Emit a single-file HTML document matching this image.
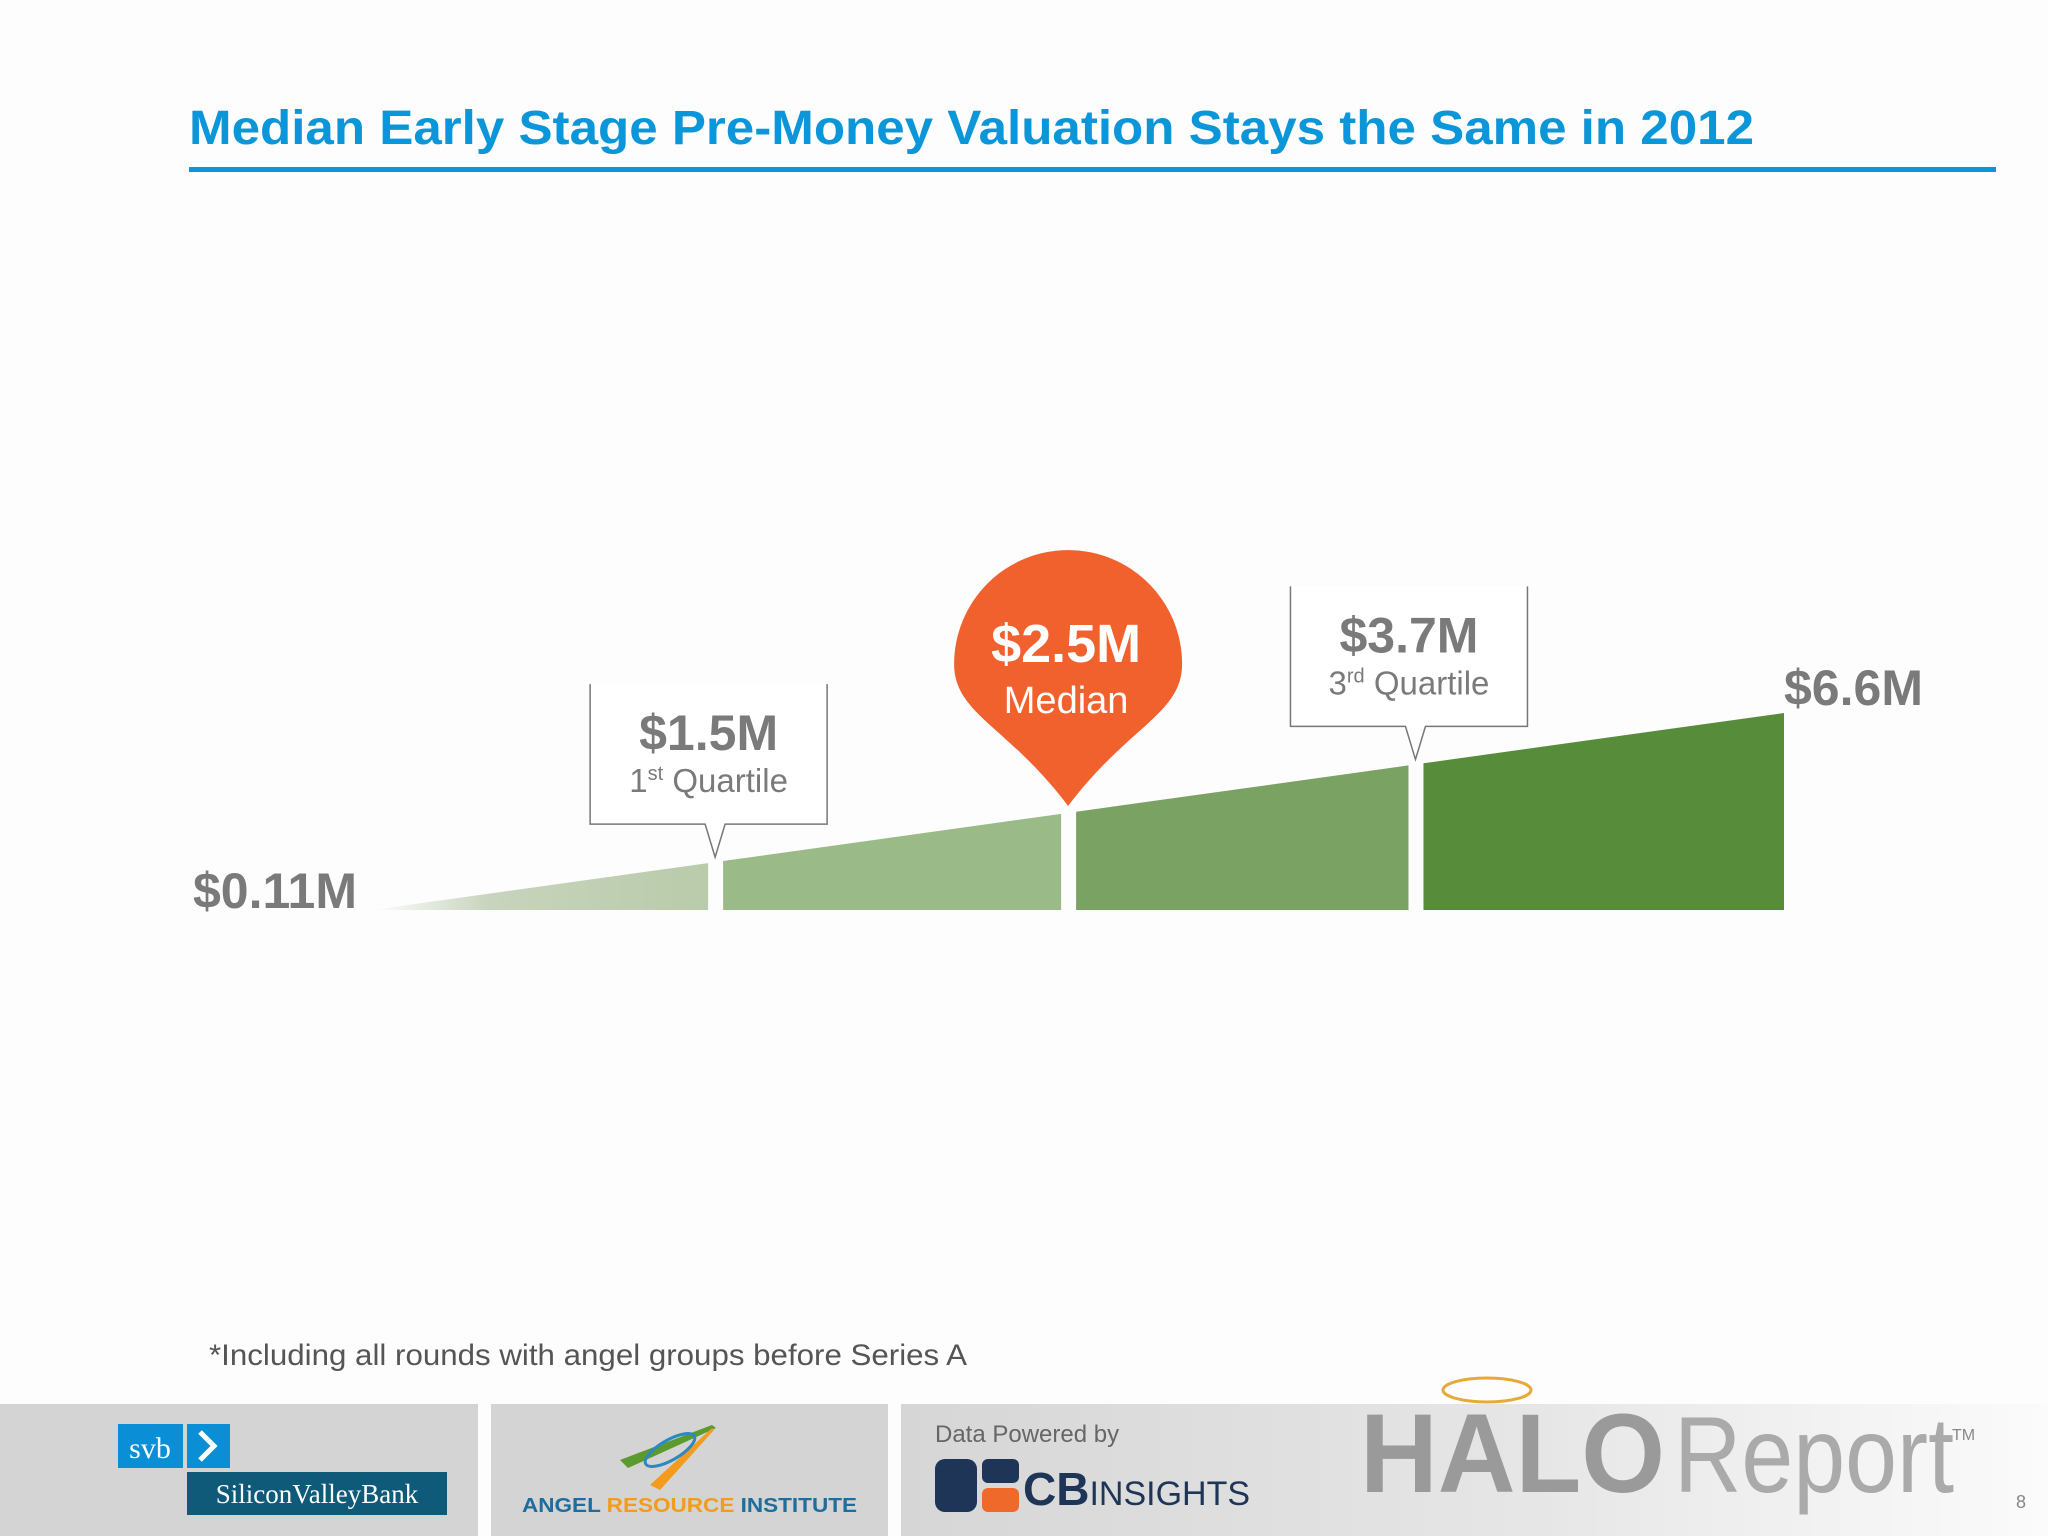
<!DOCTYPE html>
<html><head><meta charset="utf-8">
<style>
html,body{margin:0;padding:0;}
body{width:2048px;height:1536px;background:#fdfdfd;position:relative;overflow:hidden;font-family:"Liberation Sans",sans-serif;}
svg{position:absolute;left:0;top:0;}
</style></head>
<body>
<svg width="2048" height="1536" viewBox="0 0 2048 1536">
<defs>
 <linearGradient id="fade" x1="0" x2="1" y1="0" y2="0">
  <stop offset="0" stop-color="#fdfdfd"/><stop offset="0.35" stop-color="#c8d4bd"/><stop offset="1" stop-color="#b9cbaa"/>
 </linearGradient>
 <linearGradient id="foot" x1="0" x2="1" y1="0" y2="0">
  <stop offset="0" stop-color="#d6d6d6"/><stop offset="0.55" stop-color="#e6e6e6"/><stop offset="1" stop-color="#fbfbfb"/>
 </linearGradient>
</defs>
<text x="189" y="144" font-size="48" font-weight="bold" fill="#0a96d8" textLength="1565" lengthAdjust="spacingAndGlyphs">Median Early Stage Pre-Money Valuation Stays the Same in 2012</text>
<rect x="189" y="167" width="1807" height="5" fill="#0a96d8"/>
<g id="chart"></g>
<text x="209" y="1365" font-size="30" fill="#555" textLength="758" lengthAdjust="spacingAndGlyphs">*Including all rounds with angel groups before Series A</text>

<g>
 <rect x="0" y="1404" width="478" height="132" fill="#d4d4d4"/>
 <rect x="491" y="1404" width="397" height="132" fill="#d4d4d4"/>
 <rect x="901" y="1404" width="1147" height="132" fill="url(#foot)"/>
 <rect x="118" y="1424" width="65" height="44" fill="#0a8fd6"/>
 <text x="150" y="1458" font-size="30" fill="#fff" text-anchor="middle" font-family="Liberation Serif,serif">svb</text>
 <rect x="187" y="1424" width="43" height="44" fill="#0a8fd6"/>
 <path d="M200 1432 L214 1446 L200 1460" stroke="#fff" stroke-width="5" fill="none"/>
 <rect x="187" y="1472" width="260" height="43" fill="#0e5a78"/>
 <text x="317" y="1503" font-size="27" fill="#fff" text-anchor="middle" font-family="Liberation Serif,serif">SiliconValleyBank</text>
 <path d="M620 1460 L712 1425 L716 1428 L628 1468 Z" fill="#5a9a2e"/>
 <path d="M650 1485 L712 1428 L714 1430 L660 1490 Z" fill="#f29b1d"/>
 <ellipse cx="670" cy="1450" rx="28" ry="10" fill="none" stroke="#2a88c4" stroke-width="3" transform="rotate(-30 670 1450)"/>
 <text x="522" y="1512" font-size="20" font-weight="bold" fill="#1e6d9c" textLength="335" lengthAdjust="spacingAndGlyphs">ANGEL <tspan fill="#f29b1d">RESOURCE</tspan> INSTITUTE</text>
 <text x="935" y="1442" font-size="24" fill="#666">Data Powered by</text>
 <rect x="935" y="1459" width="42" height="53" rx="10" fill="#1e3558"/>
 <rect x="982" y="1459" width="37" height="24" rx="6" fill="#1e3558"/>
 <rect x="982" y="1488" width="37" height="24" rx="6" fill="#ef6a2a"/>
 <text x="1023" y="1505" font-size="46" font-weight="bold" fill="#1e3558">CB<tspan font-weight="normal" font-size="34">INSIGHTS</tspan></text>
 <ellipse cx="1487" cy="1390" rx="44" ry="12" fill="none" stroke="#e8a83a" stroke-width="3"/>
 <text x="1360" y="1492" font-size="112" font-weight="bold" fill="#9a9a9a" textLength="305" lengthAdjust="spacingAndGlyphs">HALO</text>
 <text x="1674" y="1492" font-size="108" fill="#aaa" textLength="280" lengthAdjust="spacingAndGlyphs">Report</text>
 <text x="1952" y="1440" font-size="16" fill="#888">TM</text>
 <text x="2016" y="1508" font-size="18" fill="#888">8</text>
</g>
</svg>
<script>
const quantilePositions=[0,0.243,0.493,0.739,1];
const valueLabels=["$0.11M","$1.5M","$2.5M","$3.7M","$6.6M"];
const quantileNames=["Minimum","1st","Median","3rd","Maximum"];
const segmentColors=["url(#fade)","#9aba88","#7aa262","#578c3a"];

const NS="http://www.w3.org/2000/svg";
const g=document.getElementById('chart');
const x0=372,x1=1784,base=910,maxH=197;
const xs=p=>x0+p*(x1-x0);
const ys=p=>base-p*maxH;
function mk(t,a){const e=document.createElementNS(NS,t);for(const k in a)e.setAttribute(k,a[k]);g.appendChild(e);return e;}
for(let i=0;i<4;i++){
 const a=quantilePositions[i],b=quantilePositions[i+1];
 const xa=xs(a)+(i?8:0),xb=xs(b)-(i<3?7:0);
 const ya=base-(xa-x0)/(x1-x0)*maxH,yb=base-(xb-x0)/(x1-x0)*maxH;
 const p=mk('path',{d:`M${xa} ${base} L${xa} ${ya} L${xb} ${yb} L${xb} ${base} Z`,fill:segmentColors[i]});
 
 
}
let t=mk('text',{x:xs(0)-179,y:base-2,'font-size':50,'font-weight':'bold',fill:'#7a7a7a'});t.textContent=valueLabels[0];


t=mk('text',{x:xs(1),y:ys(1)-8,'font-size':50,'font-weight':'bold',fill:'#7a7a7a'});t.textContent=valueLabels[4];


[1,3].forEach(i=>{
 const cx=xs(quantilePositions[i]);const tipY=base-(cx-x0)/(x1-x0)*maxH-5;
 const bottom=tipY-33,top=bottom-140,l=cx-125,r=cx+112;
 const p=mk('path',{d:`M${l} ${top} L${l} ${bottom} L${cx-10} ${bottom} L${cx} ${tipY} L${cx+10} ${bottom} L${r} ${bottom} L${r} ${top}`,fill:'#fff',stroke:'#777','stroke-width':1.5});
 
 
 const mid=(l+r)/2;
 let a=mk('text',{x:mid,y:top+66,'font-size':50,'font-weight':'bold',fill:'#7a7a7a','text-anchor':'middle'});a.textContent=valueLabels[i];
 
 
 let b=mk('text',{x:mid,y:top+108,'font-size':33,fill:'#7a7a7a','text-anchor':'middle'});
 b.innerHTML=(i===1?'1<tspan dy="-12" font-size="20">st</tspan>':'3<tspan dy="-12" font-size="20">rd</tspan>')+'<tspan dy="12"> Quartile</tspan>';
 
 
});
{
 const cx=xs(quantilePositions[2]);const tip=806,cy=664,r=114;
 const p=mk('path',{d:`M${cx} ${tip} C${cx-60} ${tip-80} ${cx-r} ${cy+50} ${cx-r} ${cy} A${r} ${r} 0 0 1 ${cx+r} ${cy} C${cx+r} ${cy+50} ${cx+60} ${tip-80} ${cx} ${tip} Z`,fill:'#f0612e'});
 
 
 let a=mk('text',{x:cx-2,y:662,'font-size':54,'font-weight':'bold',fill:'#fff','text-anchor':'middle'});a.textContent=valueLabels[2];
 
 
 let b=mk('text',{x:cx-2,y:713,'font-size':38,fill:'#fff','text-anchor':'middle'});b.textContent=quantileNames[2];
 
 
}
</script>
</body></html>
